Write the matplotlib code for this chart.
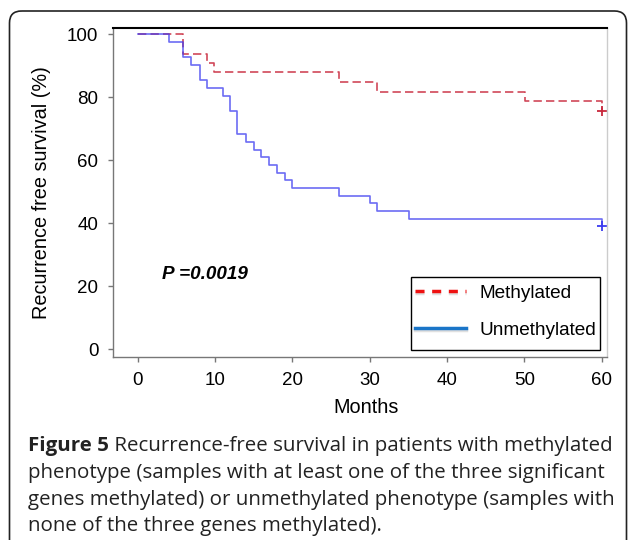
import matplotlib
matplotlib.use("Agg")
import matplotlib.pyplot as plt
import matplotlib.patheffects as pe
from matplotlib.patches import FancyBboxPatch, Rectangle
from matplotlib.lines import Line2D

# Kaplan-Meier steps (months, % recurrence free)
meth_months = [0, 5.9, 9.0, 9.9, 26.0, 30.9, 50.1, 60.0]
meth_surv = [100, 93.9, 90.9, 87.9, 84.8, 81.8, 78.8, 75.8]

unmeth_months = [0, 4.0, 5.9, 6.85, 8.0, 8.9, 11.0, 11.9, 12.8, 14.0, 15.0,
                 16.0, 17.0, 18.0, 19.0, 20.0, 26.0, 30.0, 31.0, 35.1, 60.0]
unmeth_surv = [100, 97.5, 92.7, 90.2, 85.4, 82.9, 80.5, 75.6, 68.3, 65.9, 63.4,
               61.0, 58.5, 56.1, 53.7, 51.2, 48.8, 46.3, 43.9, 41.5, 39.0]

x_ticks = [0, 10, 20, 30, 40, 50, 60]
y_ticks = [0, 20, 40, 60, 80, 100]
labels = ["Methylated", "Unmethylated"]
p_text = "P =0.0019"
caption_lines = [
    "Recurrence-free survival in patients with methylated",
    "phenotype (samples with at least one of the three significant",
    "genes methylated) or unmethylated phenotype (samples with",
    "none of the three genes methylated).",
]

plt.rcParams['font.family'] = ['Liberation Sans', 'DejaVu Sans']

fig = plt.figure(figsize=(6.29, 5.40), dpi=100)

# background layer in pixel coords: rounded frame + caption
bg = fig.add_axes([0, 0, 1, 1], zorder=0)
bg.set_xlim(0, 629)
bg.set_ylim(540, 0)
bg.axis('off')
bg.add_patch(FancyBboxPatch((9.5, 11), 617, 600,
                            boxstyle='round,pad=0,rounding_size=12',
                            fill=False, ec='#222222', lw=1.2))

cap_font = ['Open Sans', 'DejaVu Sans']
cap_size = 14.75
baselines = [451, 478, 505, 531.5]
t = bg.text(28, baselines[0], "Figure 5", fontsize=cap_size, weight='bold',
            family=cap_font, color='#222222', va='baseline')
bg.annotate(" " + caption_lines[0], xy=(1, 0), xycoords=t, va='bottom',
            fontsize=cap_size, family=cap_font, color='#222222')
for line, yb in zip(caption_lines[1:], baselines[1:]):
    bg.text(28, yb, line, fontsize=cap_size, family=cap_font, color='#222222',
            va='baseline')

# main plot
ax = fig.add_axes([113 / 629, 1 - 357 / 540, 494 / 629, 329 / 540], zorder=1)
ax.patch.set_alpha(0)

red = '#c8283c'
blue = '#3c3cf0'
ax.step(meth_months, meth_surv, where='post', color=red, lw=1.2,
        dashes=(5, 2.5), alpha=0.85)
ax.step(unmeth_months, unmeth_surv, where='post', color=blue, lw=1.2, alpha=0.75)
ax.plot(meth_months[-1], meth_surv[-1], '+', color=red, ms=7, mew=1.3)
ax.plot(unmeth_months[-1], unmeth_surv[-1], '+', color=blue, ms=7, mew=1.3)

ax.set_xlim(-3.2, 60.7)
ax.set_ylim(-2.44, 102.0)
ax.set_xticks(x_ticks)
ax.set_yticks(y_ticks)
ax.tick_params(direction='out', length=3.5, width=1, color='#777777',
               labelsize=13.5, pad=7)

for side in ['left', 'bottom']:
    ax.spines[side].set_color('#777777')
    ax.spines[side].set_linewidth(1)
ax.spines['top'].set_color('black')
ax.spines['top'].set_linewidth(1.5)
ax.spines['right'].set_color('#cccccc')
ax.spines['right'].set_linewidth(1)

ax.set_xlabel("Months", fontsize=14.3)
ax.xaxis.set_label_coords(0.512, -0.125)
ax.set_ylabel("Recurrence free survival (%)", fontsize=14.3)
ax.yaxis.set_label_coords(-0.125, 0.5)

ax.text(3.1, 23.6, p_text, fontsize=13.6, weight='bold', style='italic',
        va='center', ha='left')

# legend: entries without frame, box drawn separately
shadow = [pe.SimpleLineShadow(offset=(0.3, -1.5), shadow_color='#999999', alpha=0.3),
          pe.Normal()]
handles = [
    Line2D([], [], color='#ee1111', lw=2.5, dashes=(2.6, 2.2), path_effects=shadow),
    Line2D([], [], color='#1a75c8', lw=2.5, path_effects=shadow),
]
ax.legend(handles, labels, loc='upper left', bbox_to_anchor=(0.611, 0.220),
          borderaxespad=0, borderpad=0, fontsize=13.7, handlelength=2.68,
          handletextpad=0.72, labelspacing=1.04, frameon=False)
ax.add_patch(Rectangle((0.603, 0.021), 0.383, 0.222, transform=ax.transAxes,
                       fill=False, ec='black', lw=1, zorder=5))

fig.savefig("out.png", dpi=100)
